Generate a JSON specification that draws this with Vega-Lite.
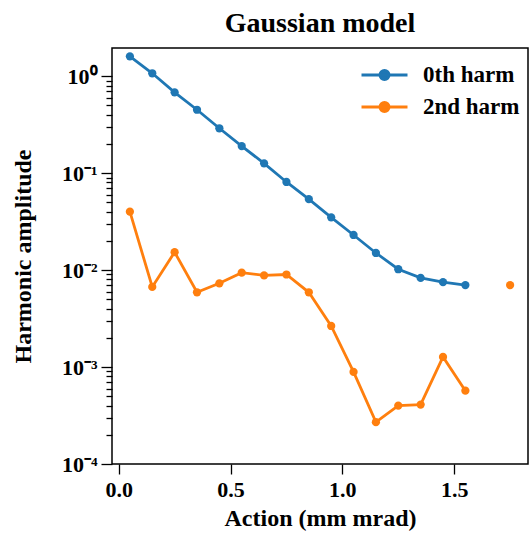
{
  "$schema": "https://vega.github.io/schema/vega-lite/v6.json",
  "width": 416,
  "height": 416,
  "autosize": {"type": "none"},
  "padding": {"left": 112, "top": 48, "right": 3, "bottom": 69},
  "background": "white",
  "title": {"text": "Gaussian model", "font": "Liberation Serif", "fontSize": 28, "fontWeight": "bold", "color": "black", "offset": 10},
  "config": {
    "view": {"stroke": "black", "strokeWidth": 1.5},
    "axis": {"grid": false, "domain": false, "tickColor": "black", "tickWidth": 1.3, "labelFont": "Liberation Serif", "labelFontWeight": "bold", "labelFontSize": 22, "labelColor": "black", "titleFont": "Liberation Serif", "titleFontWeight": "bold", "titleFontSize": 24, "titleColor": "black"}
  },
  "data": {"values": [
    {"x": 0.05, "harm": "0th harm", "y": 1.6},
    {"x": 0.15, "harm": "0th harm", "y": 1.07},
    {"x": 0.25, "harm": "0th harm", "y": 0.68},
    {"x": 0.35, "harm": "0th harm", "y": 0.45},
    {"x": 0.45, "harm": "0th harm", "y": 0.29},
    {"x": 0.55, "harm": "0th harm", "y": 0.19},
    {"x": 0.65, "harm": "0th harm", "y": 0.126},
    {"x": 0.75, "harm": "0th harm", "y": 0.081},
    {"x": 0.85, "harm": "0th harm", "y": 0.054},
    {"x": 0.95, "harm": "0th harm", "y": 0.035},
    {"x": 1.05, "harm": "0th harm", "y": 0.023},
    {"x": 1.15, "harm": "0th harm", "y": 0.015},
    {"x": 1.25, "harm": "0th harm", "y": 0.0102},
    {"x": 1.35, "harm": "0th harm", "y": 0.0083},
    {"x": 1.45, "harm": "0th harm", "y": 0.0075},
    {"x": 1.55, "harm": "0th harm", "y": 0.0070},
    {"x": 0.05, "harm": "2nd harm", "y": 0.040},
    {"x": 0.15, "harm": "2nd harm", "y": 0.0067},
    {"x": 0.25, "harm": "2nd harm", "y": 0.0153},
    {"x": 0.35, "harm": "2nd harm", "y": 0.0059},
    {"x": 0.45, "harm": "2nd harm", "y": 0.0073},
    {"x": 0.55, "harm": "2nd harm", "y": 0.0094},
    {"x": 0.65, "harm": "2nd harm", "y": 0.0088},
    {"x": 0.75, "harm": "2nd harm", "y": 0.0090},
    {"x": 0.85, "harm": "2nd harm", "y": 0.0059},
    {"x": 0.95, "harm": "2nd harm", "y": 0.00265},
    {"x": 1.05, "harm": "2nd harm", "y": 0.00089},
    {"x": 1.15, "harm": "2nd harm", "y": 0.00027},
    {"x": 1.25, "harm": "2nd harm", "y": 0.00040},
    {"x": 1.35, "harm": "2nd harm", "y": 0.00041},
    {"x": 1.45, "harm": "2nd harm", "y": 0.00127},
    {"x": 1.55, "harm": "2nd harm", "y": 0.00057},
    {"x": 1.65, "harm": "2nd harm", "y": null},
    {"x": 1.75, "harm": "2nd harm", "y": 0.0070}
  ]},
  "layer": [
    {
      "mark": {"type": "line", "strokeWidth": 2.8, "invalid": "break-paths-show-domains"},
      "encoding": {
        "x": {"field": "x", "type": "quantitative", "scale": {"domain": [-0.03, 1.83], "nice": false, "zero": false},
              "axis": {"values": [0, 0.5, 1, 1.5], "format": ".1f", "tickSize": 10, "labelPadding": 5, "title": "Action (mm mrad)", "titlePadding": 6}},
        "y": {"field": "y", "type": "quantitative", "scale": {"type": "log", "domain": [0.0001, 1.95], "nice": false},
              "axis": {"values": [0.0001, 0.001, 0.01, 0.1, 1], "tickSize": 11, "labelPadding": 4, "labelExpr": "datum.value >= 0.5 ? '10⁰' : datum.value >= 0.05 ? '10⁻¹' : datum.value >= 0.005 ? '10⁻²' : datum.value >= 0.0005 ? '10⁻³' : '10⁻⁴'", "title": "Harmonic amplitude", "titlePadding": 26}},
        "color": {"field": "harm", "type": "nominal", "scale": {"domain": ["0th harm", "2nd harm"], "range": ["#1f77b4", "#ff7f0e"]},
                  "legend": {"title": null, "orient": "none", "legendX": 248, "legendY": 16, "symbolType": "M-1,0L1,0M-0.2,0A0.2,0.2,0,1,1,0.2,0A0.2,0.2,0,1,1,-0.2,0Z", "symbolSize": 2116, "symbolStrokeWidth": 2.8, "clipHeight": 22, "rowPadding": 9, "labelFont": "Liberation Serif", "labelFontWeight": "bold", "labelFontSize": 23, "labelColor": "black", "labelOffset": 14,
                             "encode": {"symbols": {"update": {"fill": {"scale": "color", "field": "value"}, "stroke": {"scale": "color", "field": "value"}, "opacity": {"value": 1}}}}}}
      }
    },
    {
      "mark": {"type": "point", "filled": true, "size": 68, "opacity": 1},
      "encoding": {
        "x": {"field": "x", "type": "quantitative"},
        "y": {"field": "y", "type": "quantitative",
              "axis": {"orient": "left", "values": [0.0002, 0.0003, 0.0004, 0.0005, 0.0006, 0.0007, 0.0008, 0.0009, 0.002, 0.003, 0.004, 0.005, 0.006, 0.007, 0.008, 0.009, 0.02, 0.03, 0.04, 0.05, 0.06, 0.07, 0.08, 0.09, 0.2, 0.3, 0.4, 0.5, 0.6, 0.7, 0.8, 0.9], "labels": false, "tickSize": 6, "title": null}},
        "color": {"field": "harm", "type": "nominal"}
      }
    }
  ],
  "resolve": {"axis": {"y": "independent"}}
}
